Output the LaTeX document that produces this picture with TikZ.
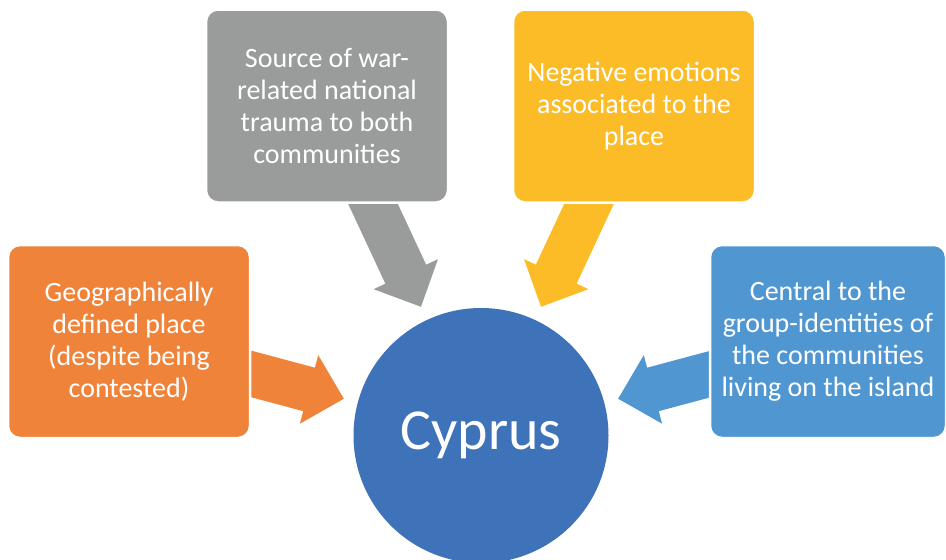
\documentclass[tikz,border=0pt]{standalone}
\usepackage{fontspec}
\setmainfont{Carlito}
\definecolor{corange}{HTML}{F0833A}
\definecolor{cgray}{HTML}{9A9B9B}
\definecolor{cyellow}{HTML}{FBBC27}
\definecolor{cblue}{HTML}{5097D2}
\definecolor{ccircle}{HTML}{3E72B9}
\begin{document}
\begin{tikzpicture}[x=1pt,y=1pt,
  box/.style={rounded corners=12pt, draw=white, line width=2.5pt, minimum width=242pt,
    minimum height=193pt, inner sep=0pt, align=center, text=white,
    font=\fontsize{28}{32}\selectfont},
  hub/.style={circle, fill=ccircle, minimum size=255pt, inner sep=0pt, text=white,
    font=\fontsize{58}{70}\selectfont}]
\useasboundingbox (0,0) rectangle (946,-560);
\node[hub] (cy) at (481,-435.5) {Cyprus};
\foreach \ang/\col in {165/corange,115/cgray,65/cyellow,15/cblue}{
  \fill[\col, shift={(cy.center)}, rotate=\ang]
    (142,0) -- (178,35.5) -- (178,22.5) -- (285,22.5) -- (285,-22.5)
    -- (178,-22.5) -- (178,-35.5) -- cycle;
}
\node[box, fill=corange] (geo) at (129,-341.5) {Geographically\\defined place\\(despite being\\contested)};
\node[box, fill=cgray] (war) at (327,-106) {Source of war-\\related national\\trauma to both\\communities};
\node[box, fill=cyellow] (neg) at (634,-106) {Negative emotions\\associated to the\\place};
\node[box, fill=cblue, minimum width=236pt] (cen) at (828,-341.5) {Central to the\\group-identities of\\the communities\\living on the island};
\end{tikzpicture}
\end{document}
